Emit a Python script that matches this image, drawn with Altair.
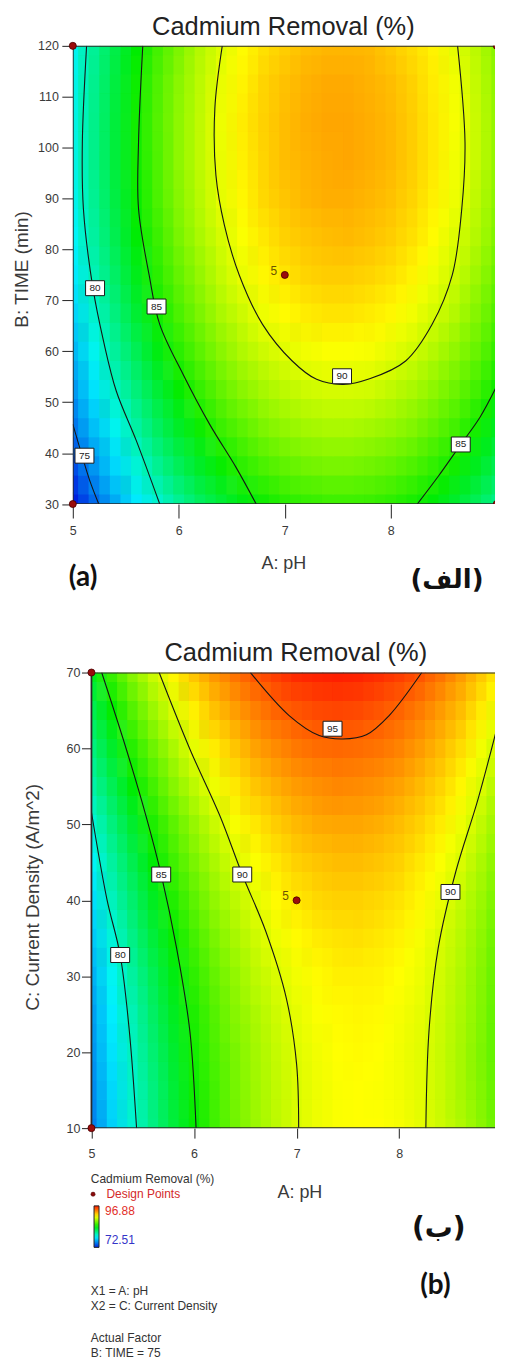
import altair as alt
import pandas as pd

FONT = "Liberation Sans"
TXT = "#333333"

# ---------------- response grids ----------------
PH_GRID = [5.0, 5.2, 5.4, 5.6, 5.8, 6.0, 6.2, 6.4, 6.6, 6.8, 7.0,
           7.2, 7.4, 7.6, 7.8, 8.0, 8.2, 8.4, 8.6, 8.8, 9.0]
TIME_GRID = [30, 37.5, 45, 52.5, 60, 67.5, 75, 82.5, 90, 97.5, 105, 112.5, 120]
CD_GRID = [10, 15, 20, 25, 30, 35, 40, 45, 50, 55, 60, 65, 70]

REMOVAL_A = [
    [72.5, 74.6, 76.5, 78.3, 79.8, 81.2, 82.5, 83.5, 84.4, 85.1, 85.7, 86.0, 86.2, 86.2, 86.1, 85.8, 85.3, 84.6, 83.7, 82.7, 81.5],
    [73.8, 75.9, 77.8, 79.6, 81.2, 82.6, 83.8, 84.9, 85.8, 86.5, 87.0, 87.4, 87.6, 87.6, 87.4, 87.1, 86.6, 85.9, 85.1, 84.0, 82.8],
    [75.0, 77.1, 79.0, 80.8, 82.4, 83.8, 85.0, 86.1, 86.9, 87.7, 88.2, 88.6, 88.8, 88.8, 88.6, 88.3, 87.8, 87.1, 86.3, 85.2, 84.0],
    [76.0, 78.1, 80.1, 81.8, 83.4, 84.8, 86.0, 87.1, 88.0, 88.7, 89.2, 89.6, 89.8, 89.8, 89.7, 89.3, 88.8, 88.1, 87.3, 86.3, 85.1],
    [76.9, 79.0, 81.0, 82.7, 84.3, 85.7, 86.9, 88.0, 88.9, 89.6, 90.1, 90.5, 90.7, 90.7, 90.6, 90.2, 89.7, 89.0, 88.2, 87.2, 86.0],
    [77.7, 79.8, 81.7, 83.5, 85.1, 86.5, 87.7, 88.8, 89.6, 90.4, 90.9, 91.3, 91.5, 91.5, 91.3, 91.0, 90.5, 89.8, 89.0, 87.9, 86.7],
    [78.3, 80.4, 82.3, 84.1, 85.7, 87.1, 88.3, 89.4, 90.3, 91.0, 91.5, 91.9, 92.1, 92.1, 91.9, 91.6, 91.1, 90.4, 89.6, 88.5, 87.3],
    [78.8, 80.9, 82.8, 84.6, 86.1, 87.6, 88.8, 89.8, 90.7, 91.4, 92.0, 92.3, 92.5, 92.6, 92.4, 92.1, 91.6, 90.9, 90.0, 89.0, 87.8],
    [79.1, 81.2, 83.1, 84.9, 86.5, 87.9, 89.1, 90.2, 91.0, 91.8, 92.3, 92.7, 92.9, 92.9, 92.7, 92.4, 91.9, 91.2, 90.4, 89.3, 88.1],
    [79.3, 81.4, 83.3, 85.1, 86.6, 88.1, 89.3, 90.3, 91.2, 91.9, 92.5, 92.8, 93.0, 93.1, 92.9, 92.6, 92.1, 91.4, 90.5, 89.5, 88.3],
    [79.3, 81.4, 83.3, 85.1, 86.7, 88.1, 89.3, 90.4, 91.3, 92.0, 92.5, 92.9, 93.1, 93.1, 92.9, 92.6, 92.1, 91.4, 90.6, 89.5, 88.3],
    [79.2, 81.3, 83.2, 85.0, 86.6, 88.0, 89.2, 90.3, 91.1, 91.9, 92.4, 92.8, 93.0, 93.0, 92.8, 92.5, 92.0, 91.3, 90.5, 89.4, 88.2],
    [79.0, 81.1, 83.0, 84.7, 86.3, 87.7, 89.0, 90.0, 90.9, 91.6, 92.1, 92.5, 92.7, 92.7, 92.6, 92.2, 91.7, 91.1, 90.2, 89.2, 88.0],
]

REMOVAL_B = [
    [75.3, 77.6, 79.7, 81.6, 83.3, 84.8, 86.2, 87.4, 88.4, 89.2, 89.9, 90.4, 90.7, 90.8, 90.8, 90.6, 90.2, 89.6, 88.9, 88.0, 86.9],
    [75.6, 77.8, 79.9, 81.7, 83.4, 85.0, 86.3, 87.5, 88.5, 89.3, 89.9, 90.4, 90.7, 90.8, 90.7, 90.5, 90.1, 89.5, 88.7, 87.8, 86.7],
    [75.9, 78.1, 80.1, 82.0, 83.6, 85.2, 86.5, 87.6, 88.6, 89.4, 90.0, 90.5, 90.8, 90.9, 90.8, 90.5, 90.1, 89.5, 88.7, 87.7, 86.6],
    [76.2, 78.4, 80.4, 82.3, 83.9, 85.4, 86.7, 87.9, 88.8, 89.6, 90.2, 90.7, 90.9, 91.0, 90.9, 90.6, 90.2, 89.6, 88.8, 87.8, 86.6],
    [76.7, 78.9, 80.9, 82.7, 84.3, 85.8, 87.1, 88.2, 89.2, 89.9, 90.5, 90.9, 91.2, 91.2, 91.1, 90.8, 90.4, 89.7, 88.9, 87.9, 86.7],
    [77.4, 79.5, 81.5, 83.3, 84.9, 86.3, 87.6, 88.7, 89.6, 90.4, 90.9, 91.3, 91.5, 91.6, 91.4, 91.1, 90.6, 89.9, 89.1, 88.1, 86.9],
    [78.0, 80.2, 82.1, 83.9, 85.5, 86.9, 88.2, 89.2, 90.1, 90.9, 91.4, 91.8, 92.0, 92.0, 91.8, 91.5, 91.0, 90.3, 89.4, 88.4, 87.2],
    [78.8, 80.9, 82.8, 84.6, 86.2, 87.6, 88.8, 89.9, 90.7, 91.4, 92.0, 92.3, 92.5, 92.5, 92.3, 92.0, 91.4, 90.7, 89.9, 88.8, 87.6],
    [79.6, 81.7, 83.6, 85.4, 86.9, 88.3, 89.5, 90.6, 91.4, 92.1, 92.6, 93.0, 93.1, 93.1, 92.9, 92.5, 92.0, 91.3, 90.4, 89.3, 88.1],
    [80.7, 82.7, 84.6, 86.3, 87.9, 89.2, 90.4, 91.4, 92.3, 92.9, 93.4, 93.7, 93.9, 93.8, 93.6, 93.2, 92.6, 91.9, 91.0, 89.9, 88.6],
    [81.7, 83.7, 85.6, 87.3, 88.8, 90.2, 91.3, 92.3, 93.2, 93.8, 94.3, 94.6, 94.7, 94.6, 94.4, 94.0, 93.4, 92.6, 91.7, 90.5, 89.3],
    [82.8, 84.8, 86.7, 88.4, 89.9, 91.2, 92.4, 93.3, 94.1, 94.8, 95.2, 95.5, 95.6, 95.5, 95.2, 94.8, 94.2, 93.4, 92.5, 91.3, 90.0],
    [84.0, 86.0, 87.9, 89.5, 91.0, 92.3, 93.5, 94.4, 95.2, 95.8, 96.3, 96.5, 96.6, 96.5, 96.2, 95.8, 95.2, 94.4, 93.4, 92.2, 90.9],
]

# ---------------- contour lines ----------------
A75_PH = [5.0, 5.08, 5.16, 5.245]
A75_T = [45.7, 40.0, 34.6, 30]
A80_PH = [5.13, 5.09, 5.10, 5.19, 5.29, 5.41, 5.60, 5.82]
A80_T = [120, 101, 88, 72.4, 62, 52.2, 42.4, 30]
A85L_PH = [5.66, 5.62, 5.62, 5.72, 5.82, 6.04, 6.29, 6.54, 6.73]
A85L_T = [120, 101, 88, 75, 65.3, 55.5, 45.7, 37.2, 30]
A90_PH = [6.41, 6.34, 6.35, 6.43, 6.57, 6.79, 7.07, 7.30, 7.55, 7.80, 8.14, 8.39, 8.58, 8.67, 8.70, 8.63]
A90_T = [120, 107.7, 94.6, 84.8, 75, 65.3, 58.1, 54.5, 53.5, 54.6, 58.1, 65.3, 75, 88.1, 101.1, 120]
A85R_PH = [8.25, 8.45, 8.66, 8.84, 9.0]
A85R_T = [30, 35.5, 41.7, 47, 53.2]

B80_PH = [5.0, 5.15, 5.28, 5.37, 5.44]
B80_C = [51.6, 40.2, 32.8, 22.7, 10]
B85_PH = [5.10, 5.34, 5.53, 5.68, 5.83, 5.96, 6.02]
B85_C = [70, 59.9, 51.2, 43.4, 33.7, 22.7, 10]
B90L_PH = [5.66, 5.96, 6.25, 6.47, 6.70, 6.90, 7.00, 7.02]
B90L_C = [70, 59.9, 51.2, 43.4, 35.9, 27.1, 18.4, 10]
B95_PH = [6.55, 6.93, 7.22, 7.45, 7.68, 7.90, 8.22]
B95_C = [70, 64.3, 61.7, 61.25, 61.8, 64.3, 70]
B90R_PH = [9.0, 8.77, 8.55, 8.38, 8.29, 8.26]
B90R_C = [65.2, 53.4, 43.7, 33.7, 22.7, 10]

# contour labels
A_LABEL_TEXT = ["75", "80", "85", "90", "85"]
A_LABEL_PH = [5.11, 5.21, 5.79, 7.54, 8.66]
A_LABEL_T = [39.5, 72.4, 68.8, 55.1, 41.7]
B_LABEL_TEXT = ["80", "85", "90", "95", "90"]
B_LABEL_PH = [5.28, 5.68, 6.47, 7.35, 8.50]
B_LABEL_C = [32.8, 43.4, 43.4, 62.6, 41.1]

# design points
A_DESIGN_PH = [5, 5, 9, 9, 7]
A_DESIGN_T = [30, 120, 30, 120, 75]
B_DESIGN_PH = [5, 5, 9, 9, 7]
B_DESIGN_C = [10, 70, 10, 70, 40]
CENTER_RUNS = ["5"]

C_DOMAIN = [72.51, 78.6, 84.7, 90.8, 96.88]
C_RANGE = ["#0020e0", "#00f4ff", "#00ec00", "#ffff00", "#ff1400"]


# ---------------- helpers ----------------
def grid_table(xs, ys, grid, dx, dy, sx, sy, overlap):
    """Cells centred on the grid values, displaced by (sx, sy), clipped to the domain."""
    xmin, xmax, ymin, ymax = xs[0], xs[-1], ys[0], ys[-1]
    ex, ey = (dx * 0.06, dy * 0.06) if overlap else (0.0, 0.0)
    rows = []
    for j, yv in enumerate(ys):
        for i, xv in enumerate(xs):
            x1 = max(xmin, xv + sx - dx / 2)
            x2 = xv + sx + dx / 2
            x2 = xmax if x2 >= xmax else x2 + ex
            y1 = max(ymin, yv + sy - dy / 2)
            y2 = yv + sy + dy / 2
            y2 = ymax if y2 >= ymax else y2 + ey
            if x2 > x1 and y2 > y1:
                rows.append({"x1": x1, "x2": x2, "y1": y1, "y2": y2, "v": grid[j][i]})
    return pd.DataFrame(rows)


def line_table(curves):
    rows = []
    for name, xs, ys in curves:
        for k, (xv, yv) in enumerate(zip(xs, ys)):
            rows.append({"c": name, "k": k, "x": xv, "y": yv})
    return pd.DataFrame(rows)


def note(text, x, y, size, color=TXT, weight="normal", font=FONT, align="center", baseline="middle"):
    return alt.Chart(pd.DataFrame({"t": [text]})).mark_text(
        font=font, fontSize=size, fontWeight=weight, color=color, align=align, baseline=baseline
    ).encode(text="t:N", x=alt.value(x), y=alt.value(y))


BOX = "M-1,-0.79L1,-0.79L1,0.79L-1,0.79Z"
AXIS_STYLE = dict(domain=False, grid=False, labelFont=FONT, labelFontSize=12.5, labelColor="#3a3a3a",
                  tickColor="#222222", tickWidth=1, labelFlush=False, titleFont=FONT,
                  titleFontWeight="normal", titleColor="#3a3a3a", titleBaseline="middle")


def panel(xs_grid, ys_grid, values, dx, dy, lines_df, frame_df, labels_df, design_df, center_df,
          xs, ys, ax_x, ax_y, legend, title_x, title_y):
    def X(f):
        return alt.X(f + ":Q", scale=xs, axis=ax_x)

    def Y(f):
        return alt.Y(f + ":Q", scale=ys, axis=ax_y)

    def cscale():
        return alt.Scale(domain=C_DOMAIN, range=C_RANGE, interpolate="rgb", clamp=True)

    base_df = grid_table(xs_grid, ys_grid, values, dx, dy, -dx / 4, -dy / 4, True)
    half_df = grid_table(xs_grid, ys_grid, values, dx, dy, dx / 4, dy / 4, False)
    heat = alt.Chart(base_df).mark_rect(strokeWidth=0, clip=True).encode(
        x=X("x1"), x2="x2", y=Y("y1"), y2="y2", color=alt.Color("v:Q", scale=cscale(), legend=legend))
    heat2 = alt.Chart(half_df).mark_rect(strokeWidth=0, clip=True, opacity=0.5).encode(
        x=X("x1"), x2="x2", y=Y("y1"), y2="y2", fill=alt.Fill("v:Q", scale=cscale(), legend=None))
    lines = alt.Chart(lines_df).mark_line(color="#161616", strokeWidth=1.1, interpolate="catmull-rom",
                                          clip=True).encode(x=X("x"), y=Y("y"), detail="c:N", order="k:Q")
    frame = alt.Chart(frame_df).mark_rect(fillOpacity=0, stroke="#2a2a2a", strokeWidth=1.8, clip=True).encode(
        x=X("x1"), x2="x2", y=Y("y1"), y2="y2")
    boxes = alt.Chart(labels_df).mark_point(shape=BOX, size=361, filled=True, fill="#ffffff", fillOpacity=1,
                                            stroke="#1a1a1a", strokeWidth=1, opacity=1).encode(x=X("x"), y=Y("y"))
    box_txt = alt.Chart(labels_df).mark_text(font=FONT, fontSize=10, color="#222222", baseline="middle").encode(
        x=X("x"), y=Y("y"), text="t:N")
    pt_style = dict(filled=True, size=50, fill="#9a0c0c", stroke="#4a0000", strokeWidth=0.8, opacity=1)
    pts_in = alt.Chart(design_df).transform_filter("datum.x < 9").mark_point(**pt_style).encode(
        x=X("x"), y=Y("y"))
    pts_edge = alt.Chart(design_df).transform_filter("datum.x >= 9").mark_point(clip=True, **pt_style).encode(
        x=X("x"), y=Y("y"))
    five = alt.Chart(center_df).mark_text(font=FONT, fontSize=12, color="#6b5200", dx=-11, dy=-4,
                                          baseline="middle").encode(x=X("x"), y=Y("y"), text="t:N")
    ttl = note("Cadmium Removal (%)", title_x, title_y, 25.5, color="#222222", baseline="alphabetic")
    return [heat, heat2, lines, frame, boxes, box_txt, pts_in, pts_edge, five, ttl]


# ---------------- panel (a) ----------------  (plot origin at page x = 73)
W, H_A, H_B = 423.5, 459.6, 457.0
xa_scale = alt.Scale(domain=[5, 9], range=[0, 425.3], nice=False, zero=False)
ya_scale = alt.Scale(domain=[30, 120], nice=False, zero=False)
xa_axis = alt.Axis(values=[5, 6, 7, 8], tickSize=14, labelPadding=7, title="A: pH", titleFontSize=18,
                   titleX=211.2, titleY=60, **AXIS_STYLE)
ya_axis = alt.Axis(values=[30, 40, 50, 60, 70, 80, 90, 100, 110, 120], tickSize=11, labelPadding=3.5,
                   title="B: TIME (min)", titleFontSize=19, titleAngle=270, titleX=-51.5, titleY=223.8,
                   **AXIS_STYLE)

lines_a = line_table([("75", A75_PH, A75_T), ("80", A80_PH, A80_T), ("85L", A85L_PH, A85L_T),
                      ("90", A90_PH, A90_T), ("85R", A85R_PH, A85R_T)])
frame_a = pd.DataFrame({"x1": [PH_GRID[0]], "x2": [PH_GRID[-1]], "y1": [TIME_GRID[0]], "y2": [TIME_GRID[-1]]})
labels_a = pd.DataFrame({"t": A_LABEL_TEXT, "x": A_LABEL_PH, "y": A_LABEL_T})
design_a = pd.DataFrame({"x": A_DESIGN_PH, "y": A_DESIGN_T})
center_a = pd.DataFrame({"x": [A_DESIGN_PH[-1]], "y": [A_DESIGN_T[-1]], "t": CENTER_RUNS})

layers_a = panel(PH_GRID, TIME_GRID, REMOVAL_A, 0.2, 7.5, lines_a, frame_a, labels_a, design_a, center_a,
                 xa_scale, ya_scale, xa_axis, ya_axis, None, 211.2, -10.4)
layers_a += [
    note("(a)", 10.3, 534, 28, color="#111111", weight="bold", font="Lato"),
    note("(الف)", 375.3, 536.3, 26, color="#111111", weight="bold", font="DejaVu Sans"),
]
panel_a = alt.layer(*layers_a).properties(width=W, height=H_A)

# ---------------- panel (b) ----------------  (pH 5 sits 18.7 px right of the shared origin)
xb_scale = alt.Scale(domain=[5, 9], range=[18.7, 430.3], nice=False, zero=False)
yb_scale = alt.Scale(domain=[10, 70], nice=False, zero=False)
xb_axis = alt.Axis(values=[5, 6, 7, 8], tickSize=10, labelPadding=9, title="A: pH", titleFontSize=18,
                   titleX=227.3, titleY=64.6, **AXIS_STYLE)
yb_axis = alt.Axis(values=[10, 20, 30, 40, 50, 60, 70], tickSize=10, labelPadding=1.5, offset=-18.7,
                   title="C: Current Density (A/m^2)", titleFontSize=19, titleAngle=270, titleX=-58.7,
                   titleY=225, **AXIS_STYLE)
legend_b = alt.Legend(orient="none", legendX=21.3, legendY=535, direction="vertical", type="gradient",
                      title=None, gradientLength=41.6, gradientThickness=5, gradientStrokeColor="#222222",
                      gradientStrokeWidth=1, values=[72.51, 96.88], format=".2f", labelFont=FONT,
                      labelFontSize=12, labelOffset=6, labelOverlap=False,
                      labelColor=alt.ExprRef(expr="datum.value > 85 ? '#e2302a' : '#3434c8'"))

lines_b = line_table([("80", B80_PH, B80_C), ("85", B85_PH, B85_C), ("90L", B90L_PH, B90L_C),
                      ("95", B95_PH, B95_C), ("90R", B90R_PH, B90R_C)])
frame_b = pd.DataFrame({"x1": [PH_GRID[0]], "x2": [PH_GRID[-1]], "y1": [CD_GRID[0]], "y2": [CD_GRID[-1]]})
labels_b = pd.DataFrame({"t": B_LABEL_TEXT, "x": B_LABEL_PH, "y": B_LABEL_C})
design_b = pd.DataFrame({"x": B_DESIGN_PH, "y": B_DESIGN_C})
center_b = pd.DataFrame({"x": [B_DESIGN_PH[-1]], "y": [B_DESIGN_C[-1]], "t": CENTER_RUNS})

layers_b = panel(PH_GRID, CD_GRID, REMOVAL_B, 0.2, 5, lines_b, frame_b, labels_b, design_b, center_b,
                 xb_scale, yb_scale, xb_axis, yb_axis, legend_b, 223.7, -11.7)
dot = alt.Chart(pd.DataFrame({"t": ["Design Points"]})).mark_point(
    filled=True, size=18, fill="#8a0a0a", stroke="#4a0000", strokeWidth=0.5, opacity=1
).encode(x=alt.value(20.3), y=alt.value(523.3))
layers_b += [
    note("(ب)", 367, 558.3, 28, color="#111111", weight="bold", font="DejaVu Sans"),
    note("(b)", 363.7, 615, 28, color="#111111", weight="bold", font="Lato"),
    note("Cadmium Removal (%)", 18, 507.6, 12, align="left"),
    dot,
    note("Design Points", 33.7, 522.6, 12, color="#d42a2a", align="left"),
    note("X1 = A: pH", 18, 620, 12, align="left"),
    note("X2 = C: Current Density", 18, 635, 12, align="left"),
    note("Actual Factor", 18, 667.3, 12, align="left"),
    note("B: TIME = 75", 18, 682.6, 12, align="left"),
]
panel_b = alt.layer(*layers_b).properties(width=W, height=H_B)

chart = alt.vconcat(panel_a, panel_b, spacing=46.6).resolve_scale(color="independent", fill="independent").properties(
    padding={"left": 4, "top": 4.9, "right": 0, "bottom": 0}
).configure_view(stroke=None)

chart.save("out.html", embed_options={"renderer": "svg", "actions": False})
